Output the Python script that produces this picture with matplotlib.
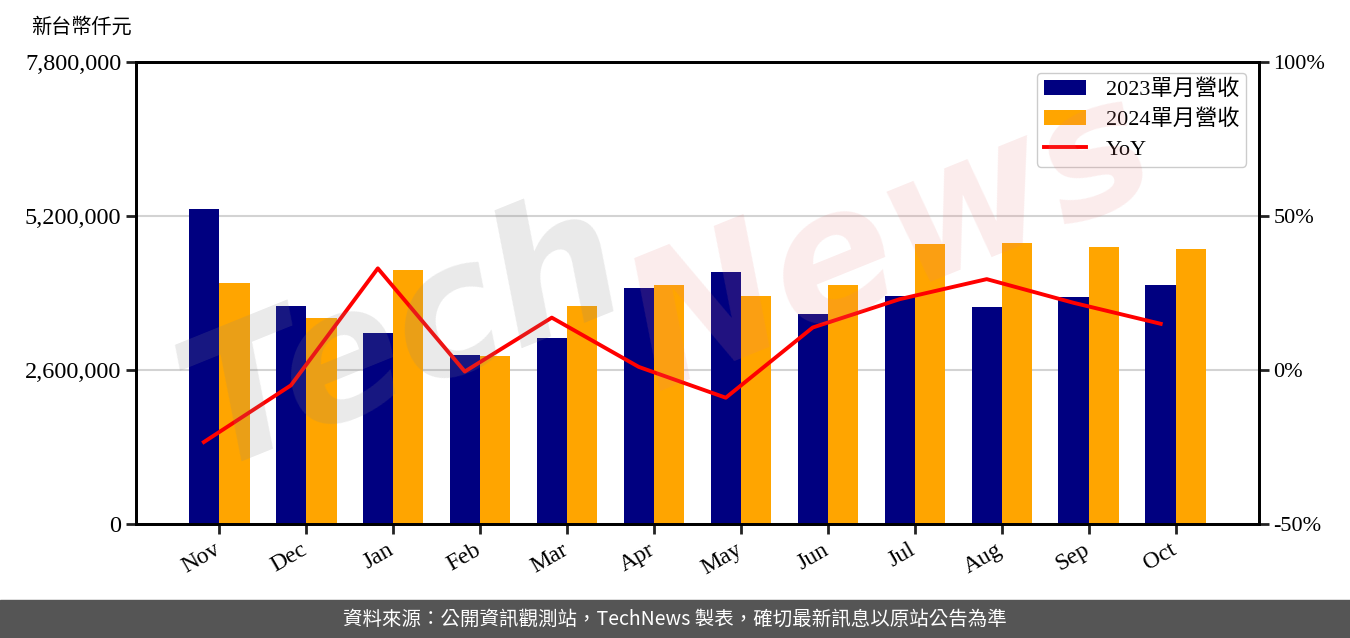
import matplotlib
matplotlib.use("Agg")
import matplotlib.pyplot as plt
import matplotlib.transforms as mtransforms
import numpy as np
from matplotlib.ticker import FuncFormatter

plt.rcParams['font.family'] = ['Liberation Serif', 'Noto Sans CJK TC']

months = ['Nov', 'Dec', 'Jan', 'Feb', 'Mar', 'Apr', 'May', 'Jun', 'Jul', 'Aug', 'Sep', 'Oct']
rev_2023 = [5318000, 3680000, 3225000, 2853000, 3140000, 3984000,
            4255000, 3545000, 3849000, 3664000, 3832000, 4035000]
rev_2024 = [4069000, 3478000, 4288000, 2836000, 3680000, 4035000,
            3849000, 4035000, 4727000, 4744000, 4677000, 4643000]
yoy = [-23.4, -5.0, 33.0, -0.5, 17.0, 1.0, -9.0, 13.8, 23.0, 29.5, 21.8, 15.0]

fig = plt.figure(figsize=(13.5, 6.38), dpi=100)
ax = fig.add_axes([136 / 1350, 114 / 638, 1123 / 1350, 462 / 638])
ax2 = ax.twinx()

x = np.arange(len(months))
w = 0.35
ax.bar(x - w / 2, rev_2023, w, color='#000080', label='2023單月營收', zorder=2)
ax.bar(x + w / 2, rev_2024, w, color='#FFA500', label='2024單月營收', zorder=2)
line, = ax2.plot(x - w / 2, yoy, color='#FF0000', lw=2.8, label='YoY', zorder=3)

ax.set_xlim(-0.955, 11.955)
ax.set_ylim(0, 7800000)
ax.set_yticks([0, 2600000, 5200000, 7800000])
ax.yaxis.set_major_formatter(FuncFormatter(lambda v, p: f'{int(v):,}'))
ax.grid(axis='y', color='#d3d3d3', lw=1.5, zorder=0)
ax.set_axisbelow(True)
ax.set_xticks(x)
ax.set_xticklabels(months, rotation=30, ha='right', rotation_mode='anchor')

ax2.set_ylim(-50, 100)
ax2.set_yticks([-50, 0, 50, 100])
ax2.yaxis.set_major_formatter(FuncFormatter(lambda v, p: f'{int(v)}%'))

for a in (ax, ax2):
    a.tick_params(labelsize=16, width=2, length=7, color='#222222')
    for s in a.spines.values():
        s.set_linewidth(2)
ax.tick_params(axis='y', labelsize=17.5)
ax.tick_params(axis='x', labelsize=17, pad=4)
shift = mtransforms.ScaledTranslation(-6 / 100, 0, fig.dpi_scale_trans)
for lbl in ax.get_xticklabels():
    lbl.set_transform(lbl.get_transform() + shift)

h1, l1 = ax.get_legend_handles_labels()
leg = ax.legend(h1 + [line], l1 + ['YoY'], loc='upper right', fontsize=16,
                framealpha=1, edgecolor='#cccccc', borderpad=0.3, handlelength=1.9,
                handletextpad=0.9, labelspacing=0.42, borderaxespad=0,
                bbox_to_anchor=(1 - 13 / 1123, 1 - 11 / 462))
leg.set_zorder(5)

fig.text(31 / 1350, 1 - 27 / 638, '新台幣仟元', fontsize=14.5, va='center', ha='left',
         family=['Noto Sans CJK TC'])

# watermark
fig.text(0.30, 0.47, 'Tech', fontsize=130, color='#888888', alpha=0.18, rotation=22,
         ha='center', va='center', style='italic', weight='bold', family='DejaVu Sans', zorder=10)
fig.text(0.66, 0.62, 'News', fontsize=130, color='#e88080', alpha=0.15, rotation=22,
         ha='center', va='center', style='italic', weight='bold', family='DejaVu Sans', zorder=10)

# footer band
fig.patches.append(plt.Rectangle((0, 0), 1, 38 / 638, transform=fig.transFigure,
                                 color='#555555', zorder=0))
fig.text(0.5, 19 / 638, '資料來源：公開資訊觀測站，TechNews 製表，確切最新訊息以原站公告為準',
         color='white', fontsize=14, ha='center', va='center',
         family=['Noto Sans CJK TC', 'DejaVu Sans'])

fig.savefig('out.png', dpi=100)
